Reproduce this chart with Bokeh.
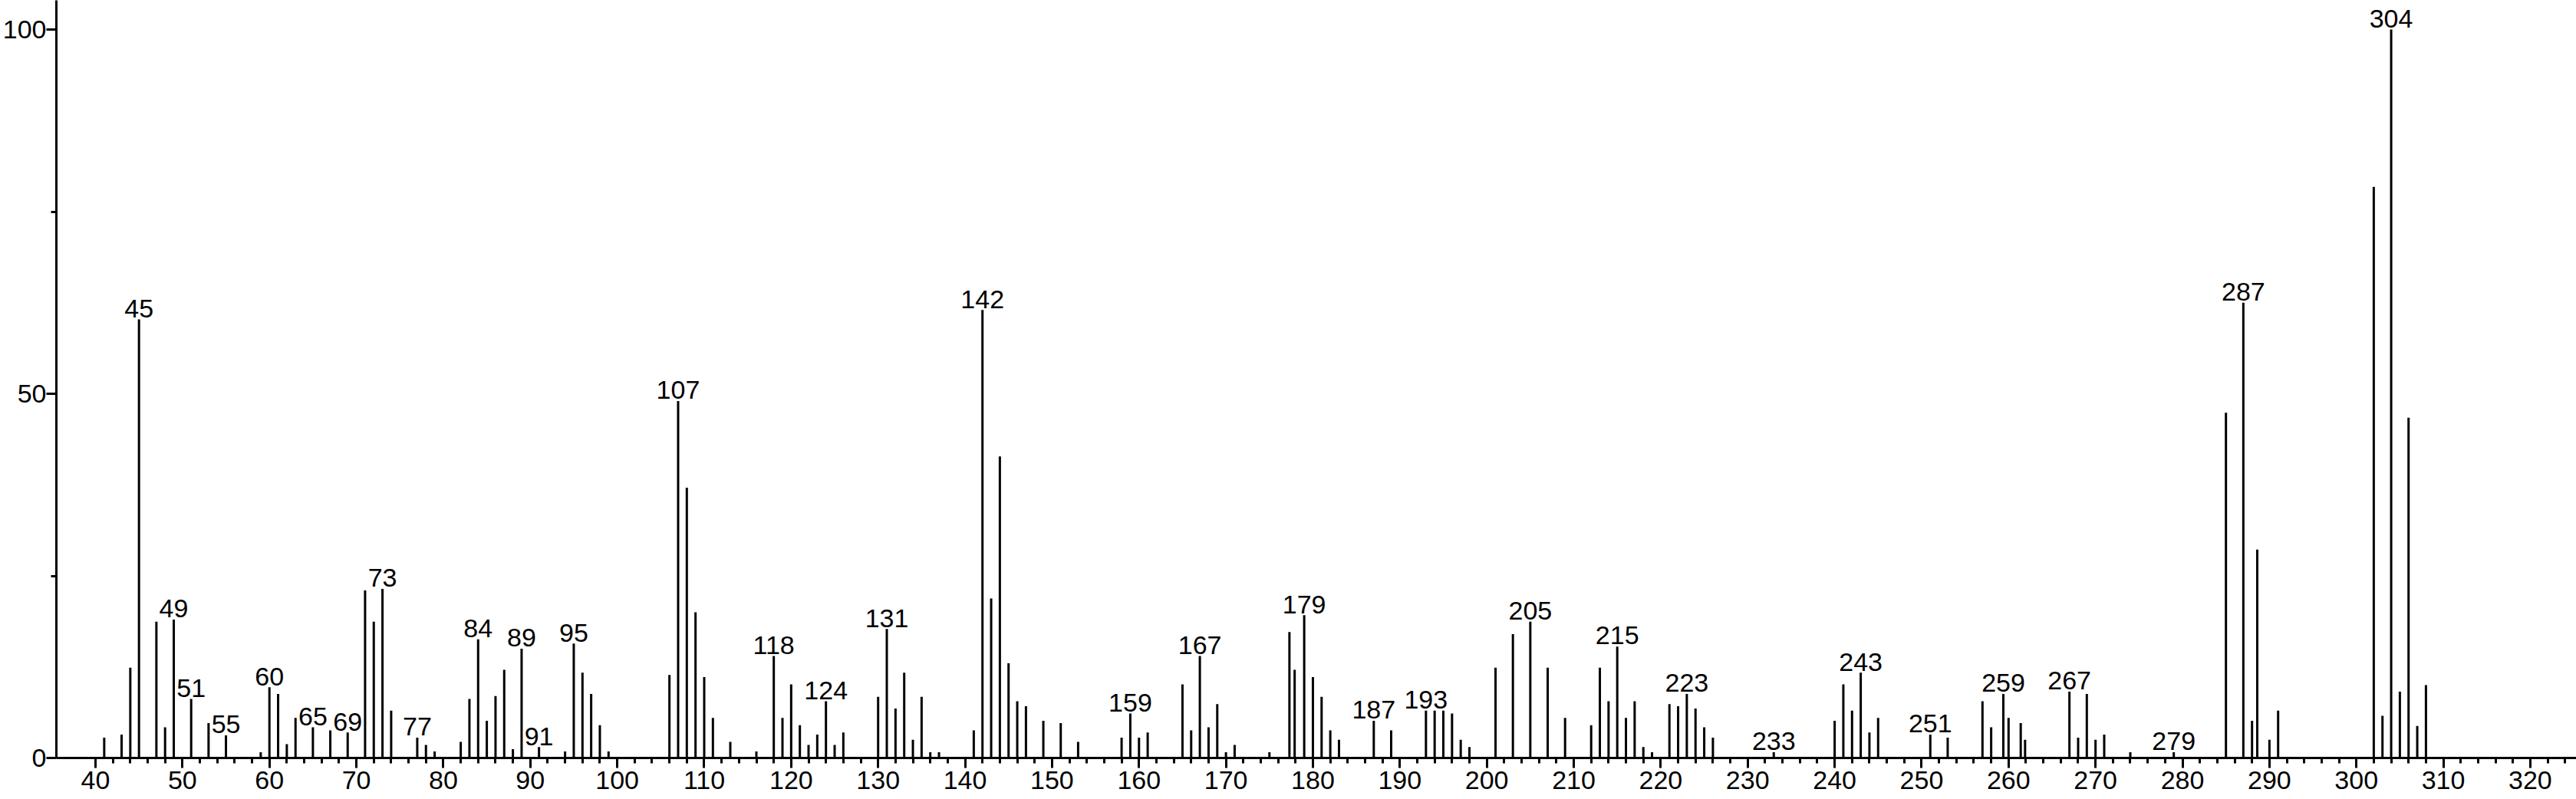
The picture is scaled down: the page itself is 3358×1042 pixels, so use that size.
from bokeh.plotting import figure
from bokeh.models import Range1d, FixedTicker, ColumnDataSource
from bokeh.embed import file_html
from bokeh.resources import INLINE
from bokeh.core.properties import value

# m/z positions of the peaks
mz = [41, 43, 44, 45, 47, 48, 49, 51, 53, 55, 59, 60, 61, 62, 63, 65, 67, 69,
      71, 72, 73, 74, 77, 78, 79, 82, 83, 84, 85, 86, 87, 88, 89, 91, 94, 95,
      96, 97, 98, 99, 106, 107, 108, 109, 110, 111, 113, 116, 118, 119, 120,
      121, 122, 123, 124, 125, 126, 130, 131, 132, 133, 134, 135, 136, 137,
      141, 142, 143, 144, 145, 146, 147, 149, 151, 153, 158, 159, 160, 161,
      165, 166, 167, 168, 169, 170, 171, 175, 177.3, 177.9, 179, 180, 181,
      182, 183, 187, 189, 193, 194, 195, 196, 197, 198, 201, 203, 205, 207,
      209, 212, 213, 214, 215, 216, 217, 218, 219, 221, 222, 223, 224, 225,
      226, 233, 240, 241, 242, 243, 244, 245, 251, 253, 257, 258, 259.4, 260,
      261.4, 261.9, 267, 268, 269, 270, 271, 274, 279, 285, 287, 288, 288.6,
      290, 291, 302, 303, 304, 305, 306, 307, 308]

# relative intensities (%)
intensity = [2.8, 3.2, 12.4, 60.2, 18.7, 4.2, 19.0, 8.1, 4.8, 3.1, 0.8, 9.7, 8.8,
             1.9, 5.5, 4.2, 3.8, 3.5, 23.0, 18.7, 23.2, 6.5, 2.8, 1.8, 0.9, 2.2,
             8.1, 16.3, 5.1, 8.5, 12.1, 1.2, 15.0, 1.5, 0.9, 15.7, 11.7, 8.8,
             4.5, 0.9, 11.4, 49.0, 37.1, 20.0, 11.1, 5.5, 2.2, 0.9, 14.0, 5.5,
             10.1, 4.5, 1.8, 3.2, 7.8, 1.8, 3.5, 8.4, 17.7, 6.8, 11.7, 2.5, 8.4,
             0.8, 0.8, 3.8, 61.5, 21.9, 41.4, 13.0, 7.8, 7.1, 5.1, 4.8, 2.2, 2.8,
             6.1, 2.8, 3.5, 10.1, 3.8, 14.0, 4.2, 7.4, 0.8, 1.8, 0.8, 17.3, 12.1,
             19.6, 11.1, 8.4, 3.8, 2.5, 5.1, 3.8, 6.5, 6.5, 6.5, 6.1, 2.5, 1.5,
             12.4, 17.0, 18.7, 12.4, 5.5, 4.5, 12.4, 7.8, 15.3, 5.5, 7.8, 1.5,
             0.8, 7.4, 7.1, 8.8, 6.8, 4.2, 2.8, 0.8, 5.1, 10.1, 6.5, 11.7, 3.5,
             5.5, 3.2, 2.8, 7.8, 4.2, 8.8, 5.5, 4.8, 2.5, 9.1, 2.8, 8.8, 2.5,
             3.2, 0.8, 0.8, 47.4, 62.5, 5.1, 28.6, 2.5, 6.5, 78.4, 5.8, 100.0,
             9.1, 46.7, 4.4, 10.0]

# labelled peaks
label_mz = [45, 49, 51, 55, 60, 65, 69, 73, 77, 84, 89, 91, 95, 107, 118, 124,
            131, 142, 159, 167, 179, 187, 193, 205, 215, 223, 233, 243, 251,
            259.4, 267, 279, 287, 304]
label_text = ["45", "49", "51", "55", "60", "65", "69", "73", "77", "84", "89",
              "91", "95", "107", "118", "124", "131", "142", "159", "167", "179",
              "187", "193", "205", "215", "223", "233", "243", "251", "259",
              "267", "279", "287", "304"]

x_major_ticks = list(range(40, 330, 10))
x_minor_ticks = [v for v in range(42, 326, 2) if v % 10 != 0]
y_major_ticks = [0, 50, 100]
y_minor_ticks = [25, 75]

LABEL_GAP = 1.5  # gap between a peak top and its label, in % units
lookup = dict(zip(mz, intensity))
label_y = [lookup[m] + LABEL_GAP for m in label_mz]

FONT = "Liberation Sans"

p = figure(width=3358, height=1042, output_backend="svg", toolbar_location=None,
           x_range=Range1d(35.5, 325.3), y_range=Range1d(0, 104.0),
           min_border_left=0, min_border_right=0, min_border_top=0,
           min_border_bottom=54)
p.outline_line_color = None
p.xgrid.visible = False
p.ygrid.visible = False
p.background_fill_color = "white"
p.border_fill_color = "white"

src = ColumnDataSource(dict(mz=mz, intensity=intensity))
p.segment(x0="mz", y0=0, x1="mz", y1="intensity", source=src,
          line_color="black", line_width=3)

p.text(x=label_mz, y=label_y, text=label_text, text_font=value(FONT),
       text_font_size="34px", text_align="center", text_baseline="alphabetic",
       text_color="black")

for ax in (p.xaxis[0], p.yaxis[0]):
    ax.axis_line_width = 3
    ax.axis_line_color = "black"
    ax.major_tick_line_width = 3
    ax.minor_tick_line_width = 3
    ax.major_tick_line_color = "black"
    ax.minor_tick_line_color = "black"
    ax.major_tick_in = 0
    ax.major_tick_out = 13
    ax.minor_tick_in = 0
    ax.minor_tick_out = 7
    ax.major_label_text_font = FONT
    ax.major_label_text_font_size = "34px"
    ax.major_label_text_color = "black"

p.xaxis.major_label_standoff = 4
p.yaxis.major_label_standoff = 0

p.xaxis.ticker = FixedTicker(ticks=x_major_ticks, minor_ticks=x_minor_ticks)
p.yaxis.ticker = FixedTicker(ticks=y_major_ticks, minor_ticks=y_minor_ticks)

open("out.html", "w").write(file_html(p, INLINE))
